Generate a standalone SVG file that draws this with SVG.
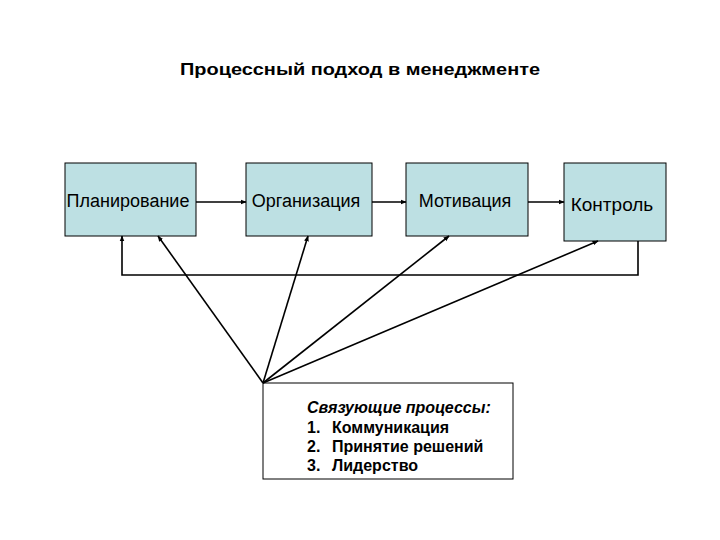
<svg xmlns="http://www.w3.org/2000/svg" width="720" height="540" viewBox="0 0 720 540">
<defs>
<style>
.box{fill:#bde0e3;stroke:#000;stroke-width:1}
.lbl{font-family:"Liberation Sans",Arial,sans-serif;font-size:18px;fill:#000}
.ln{stroke:#000;stroke-width:1.6;fill:none}
.t{font-family:"Liberation Sans",Arial,sans-serif;font-size:16px;font-weight:bold;fill:#000}
</style>
<marker id="ah" viewBox="0 0 10 10" refX="9" refY="5" markerWidth="6" markerHeight="6" orient="auto" markerUnits="userSpaceOnUse">
<path d="M0,1 L10,5 L0,9 z" fill="#000"/>
</marker>
</defs>
<rect width="720" height="540" fill="#fff"/>
<text x="180" y="75" textLength="360" lengthAdjust="spacingAndGlyphs" style="font-family:'Liberation Sans',Arial,sans-serif;font-size:17px;font-weight:bold">Процессный подход в менеджменте</text>
<g id="planning"><rect class="box" x="65" y="163" width="131" height="73"/><text class="lbl" x="128" y="207" text-anchor="middle">Планирование</text></g>
<g id="organization"><rect class="box" x="246" y="163" width="126" height="73"/><text class="lbl" x="306" y="207" text-anchor="middle">Организация</text></g>
<g id="motivation"><rect class="box" x="406" y="163" width="122" height="73"/><text class="lbl" x="465" y="207" text-anchor="middle">Мотивация</text></g>
<g id="control"><rect class="box" x="564" y="163" width="102" height="78"/><text class="lbl" x="612" y="211" text-anchor="middle" style="font-size:19px">Контроль</text></g>
<g id="linking"><rect x="263" y="383" width="250" height="96" fill="#fff" stroke="#000" stroke-width="1"/>
<text class="t" x="307" y="413" font-style="italic">Связующие процессы:</text>
<text class="t" x="307" y="433">1.</text><text class="t" x="332" y="433">Коммуникация</text>
<text class="t" x="307" y="452">2.</text><text class="t" x="332" y="452">Принятие решений</text>
<text class="t" x="307" y="471">3.</text><text class="t" x="332" y="471">Лидерство</text>
</g>
<g id="connectors">
<line class="ln" x1="196" y1="202" x2="246" y2="202" marker-end="url(#ah)"/>
<line class="ln" x1="372" y1="202" x2="406" y2="202" marker-end="url(#ah)"/>
<line class="ln" x1="528" y1="202" x2="564" y2="202" marker-end="url(#ah)"/>
<polyline class="ln" points="638,241 638,275 122,275 122,236" marker-end="url(#ah)"/>
<line class="ln" x1="263" y1="383" x2="158" y2="236" marker-end="url(#ah)"/>
<line class="ln" x1="263" y1="383" x2="308" y2="236" marker-end="url(#ah)"/>
<line class="ln" x1="263" y1="383" x2="449" y2="236" marker-end="url(#ah)"/>
<line class="ln" x1="263" y1="383" x2="598" y2="241" marker-end="url(#ah)"/>
</g>
</svg>
